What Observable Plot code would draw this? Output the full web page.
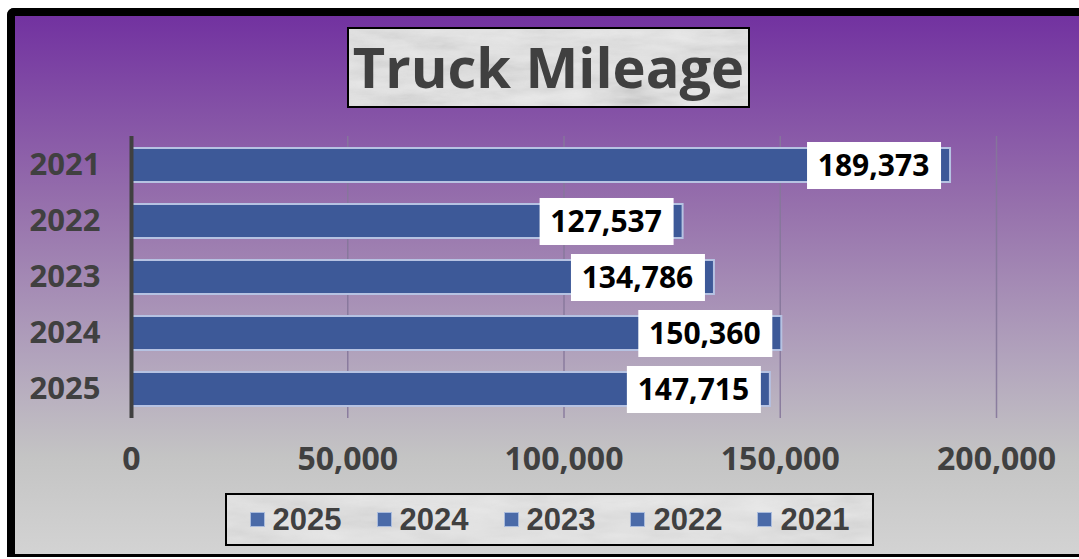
<!DOCTYPE html>
<html>
<head>
<meta charset="utf-8">
<script src="https://cdn.jsdelivr.net/npm/d3@7"></script>
<script src="https://cdn.jsdelivr.net/npm/@observablehq/plot@0.6"></script>
<style>
  html, body { margin: 0; padding: 0; background: #ffffff; }
  #wrap { position: relative; width: 1079px; height: 559px; overflow: hidden; background: #ffffff; }
  #frame {
    position: absolute; left: 7px; top: 8px; width: 1100px; height: 549px;
    box-sizing: border-box;
    border-left: 8px solid #000; border-top: 8px solid #000; border-bottom: 3px solid #000;
    border-top-left-radius: 7px;
    background: linear-gradient(to bottom, #7232a0 0%, #9670ac 35%, #b3a6bd 65%, #c4c4c4 82%, #d3d3d3 100%);
  }
  .marble {
    background-color: #e9e9e9;
    background-image: url("data:image/svg+xml;utf8,<svg xmlns='http://www.w3.org/2000/svg' width='420' height='90'><filter id='n'><feTurbulence type='fractalNoise' baseFrequency='0.015 0.06' numOctaves='4' seed='7'/><feColorMatrix type='saturate' values='0'/></filter><rect width='100%' height='100%' filter='url(%23n)' opacity='0.45'/></svg>");
    background-size: cover;
    border: 2px solid #000;
    box-sizing: border-box;
    position: absolute;
  }
  #title {
    left: 347px; top: 27px; width: 403px; height: 81px;
    font-family: "Open Sans", "Noto Sans", sans-serif; font-weight: 700; font-size: 56px;
    color: #404040; display: flex; align-items: center; justify-content: center; line-height: 1;
    padding-bottom: 4px;
  }
  #legend {
    left: 225px; top: 493px; width: 649px; height: 53px;
    display: flex; align-items: center; justify-content: center; gap: 35px;
    font-family: "Liberation Sans", Arial, sans-serif; font-weight: 700; font-size: 31px; color: #404040;
  }
  .item { display: flex; align-items: center; gap: 8px; }
  .sw { width: 13px; height: 13px; background: #4a6aa8; border: 1px solid #a9bbdc; }
  #chart { position: absolute; left: 0; top: 0; }
  #chart text { font-family: "Open Sans", sans-serif; font-weight: 700; }
</style>
</head>
<body>
<div id="wrap">
  <div id="frame"></div>
  <div id="chart"></div>
  <div id="title" class="marble">Truck Mileage</div>
  <div id="legend" class="marble"></div>
</div>
<script>
const years = ["2021", "2022", "2023", "2024", "2025"];
const miles = [189373, 127537, 134786, 150360, 147715];
const xTicks = [0, 50000, 100000, 150000, 200000];
const legendLabels = ["2025", "2024", "2023", "2022", "2021"];

const data = years.map((y, i) => ({year: y, value: miles[i]}));
const fmt = d3.format(",");
const ff = "'Open Sans', sans-serif";

const chart = Plot.plot({
  width: 1079,
  height: 559,
  marginLeft: 131,
  marginRight: 83,
  marginTop: 136,
  marginBottom: 141,
  style: {background: "transparent", fontFamily: ff, overflow: "visible"},
  x: {domain: [0, 200000], ticks: xTicks, tickFormat: fmt},
  y: {domain: years, paddingInner: 0.4, paddingOuter: 0.2},
  marks: [
    Plot.gridX(xTicks.slice(1), {stroke: "#85779a", strokeOpacity: 0.9, strokeWidth: 1.5}),
    Plot.barX(data, {x: "value", y: "year", fill: "#3d5998", stroke: "#b6c2e2", strokeWidth: 2}),
    Plot.ruleX([0], {stroke: "#404040", strokeWidth: 4}),
    Plot.barX(data, {x1: "value", x2: "value", y: "year", fill: "white",
      insetLeft: -143, insetRight: 9, insetTop: -6, insetBottom: -7}),
    Plot.text(data, {x: "value", y: "year", text: d => fmt(d.value), dx: -77, dy: 1,
      fill: "#000", fontSize: 30, fontWeight: 700, fontFamily: ff}),
    Plot.axisY({tickSize: 0, tickPadding: 31, fontSize: 31, fontWeight: 700, fontFamily: ff, fill: "#404040", label: null}),
    Plot.axisX({ticks: xTicks, tickFormat: fmt, tickSize: 0, tickPadding: 29, fontSize: 32, fontWeight: 700, fontFamily: ff, fill: "#404040", label: null})
  ]
});
document.getElementById("chart").appendChild(chart);

const legend = document.getElementById("legend");
legendLabels.forEach(l => {
  const it = document.createElement("div");
  it.className = "item";
  const sw = document.createElement("span");
  sw.className = "sw";
  const t = document.createElement("span");
  t.textContent = l;
  it.appendChild(sw);
  it.appendChild(t);
  legend.appendChild(it);
});
</script>
</body>
</html>
